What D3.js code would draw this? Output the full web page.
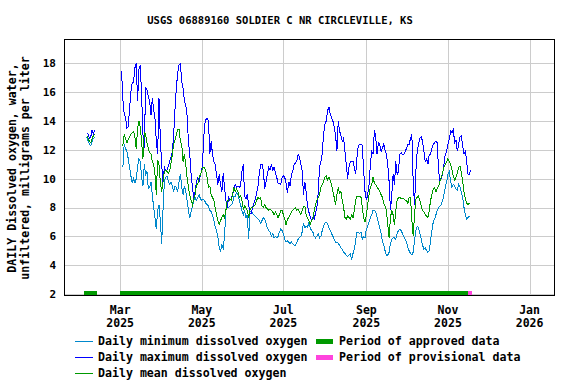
<!DOCTYPE html>
<html>
<head>
<meta charset="UTF-8">
<style>
  body { margin: 0; background: #fff; }
  svg { display: block; background: #fff; }
  text { font-family: "DejaVu Sans Mono", monospace; font-weight: bold; fill: #000; }
</style>
</head>
<body>
<svg></svg>
<script src="https://d3js.org/d3.v7.min.js"></script>
<script>

let width = 576, height = 384;

let title = "USGS 06889160 SOLDIER C NR CIRCLEVILLE, KS";
let yTitle = ["DAILY Dissolved oxygen, water,", "unfiltered, milligrams per liter"];

// short February run, one value per day from febStart
let febStart = "2025-02-04";
let febMax  = [13.2, 13.1, 12.8, 12.9, 13.4, 13.1, 13.4];
let febMean = [13.0, 12.8, 12.6, 12.5, 12.8, 13.0, 13.1];
let febMin  = [12.9, 12.6, 12.4, 12.3, 12.6, 12.8, 12.9];

// main run, one value per day
let maxStart = "2025-03-02";
let maxVals = [
  17.5, 15.5, 14.5, 14.3, 13.5, 13.6, 14.9, 16.0, 16.7, 16.7,
  17.7, 18.0, 15.4, 17.6, 17.9, 15.8, 13.1, 12.1, 16.3, 16.2,
  15.7, 15.4, 14.4, 15.6, 14.8, 14.2, 12.6, 11.7, 15.6, 12.8,
  11.0, 9.8, 10.8, 10.6, 10.6, 10.9, 11.2, 11.5, 11.9, 13.1,
  14.9, 16.3, 17.4, 17.9, 18.0, 16.7, 16.3, 15.4, 15.1, 14.4,
  12.6, 11.7, 10.3, 9.4, 8.7, 9.1, 9.8, 10.1, 9.8, 10.3,
  10.5, 11.9, 13.7, 14.1, 14.2, 14.0, 11.7, 12.6, 11.7, 11.2,
  11.0, 10.3, 9.6, 10.3, 9.6, 9.1, 10.4, 9.4, 8.5, 8.0,
  8.7, 8.5, 8.6, 8.9, 9.3, 9.6, 9.4, 9.5, 9.4,
  9.5, 10.5, 11.0, 8.8, 8.6, 8.9, 8.2, 7.6, 7.6, 8.0,
  8.3, 8.6, 9.0, 9.5, 10.4, 11.0, 11.0, 10.6, 9.3, 9.8,
  10.3, 10.8, 10.6, 11.0, 10.6, 10.8, 10.4, 10.1, 9.7, 9.7,
  9.6, 10.1, 10.2, 10.1, 9.7, 9.0, 9.8, 9.5, 10.3, 10.5,
  11.0, 11.1, 11.2, 11.7, 11.5, 11.0, 10.6, 8.9, 9.8, 9.1,
  8.1, 7.7, 7.4, 7.1, 7.3, 7.2, 7.6, 8.0, 9.0, 10.8,
  11.2, 11.7, 13.1, 13.8, 14.0, 14.7, 15.0, 14.5, 14.2, 14.0,
  13.6, 13.0, 11.9, 14.0, 13.3, 13.0, 12.6, 12.8, 11.9, 11.0,
  10.0, 10.8, 11.2, 11.2, 11.2, 10.8, 10.3, 11.5, 12.3,
  12.4, 12.4, 12.3, 10.5, 9.1, 8.5, 8.9, 9.6, 11.0, 11.9,
  11.7, 13.4, 12.9, 11.7, 12.5, 12.4, 11.9, 12.1, 12.4, 12.0,
  11.7, 11.0, 9.8, 7.8, 8.9, 10.3, 9.6, 11.2, 10.3, 10.5,
  11.7, 11.8, 11.7, 11.7, 11.9, 12.1, 12.4, 12.4, 12.8, 13.1,
  9.8, 8.2, 10.5, 11.9, 12.4, 12.8, 12.9, 12.6, 11.9, 11.2,
  11.4, 11.0, 11.7, 11.7, 12.1, 12.4, 12.5, 12.6, 12.5, 10.5,
  9.9, 10.0, 10.3, 11.0, 11.7, 11.9, 12.4, 12.8, 13.3, 13.2,
  13.4, 12.5, 12.7, 11.9, 12.4, 12.9, 13.0, 12.3, 11.7, 11.9,
  11.2, 10.3, 10.3, 10.6
];

let meanStart = "2025-03-03";
let meanVals = [
  12.3, 13.1, 12.8, 12.5, 12.7, 12.9, 13.1, 13.2, 13.3, 12.9,
  12.1, 13.5, 14.0, 13.6, 12.6, 11.4, 13.2, 13.1, 12.5, 12.1,
  11.8, 11.7, 11.2, 11.0, 10.3, 8.9, 11.3, 11.0, 9.8, 9.1,
  9.8, 10.5, 10.6, 10.5, 10.4, 10.5, 11.1, 11.7, 12.4, 12.7,
  13.1, 13.4, 13.4, 12.6, 12.4, 11.2, 11.7, 11.0, 10.1, 9.4,
  8.9, 8.5, 8.2, 8.6, 8.9, 9.6, 9.6, 10.1, 10.3, 10.6,
  10.8, 10.8, 10.5, 10.1, 9.4, 9.5, 8.9, 8.7, 8.5, 8.0,
  7.5, 7.1, 6.8, 7.1, 7.3, 7.5, 7.3, 7.8, 8.5, 8.5,
  8.6, 8.5, 8.9, 9.4, 9.1, 9.3, 9.1,
  8.7, 8.8, 8.5, 7.9, 8.1, 8.0, 7.8, 7.3, 7.8, 8.0,
  8.0, 8.1, 8.2, 8.5, 8.7, 8.6, 8.7, 8.1, 8.0, 8.2,
  8.0, 7.9, 7.8, 7.9, 7.8, 7.7, 7.5, 7.7, 7.5, 7.3,
  7.5, 7.8, 7.8, 7.5, 7.2, 6.8, 7.2, 7.3, 7.5, 7.7,
  7.8, 7.9, 8.0, 7.8, 7.9, 7.7, 7.5, 7.8, 8.1, 8.1,
  7.5, 7.3, 7.1, 6.8, 7.1, 7.2, 7.8, 8.2, 8.5, 8.7,
  8.9, 9.4, 9.6, 9.8, 10.1, 10.2, 9.9, 10.1, 9.9, 9.6,
  9.1, 8.7, 8.2, 8.9, 9.4, 9.0, 9.1, 8.5, 8.0, 7.3,
  7.2, 7.4, 7.3, 7.2, 7.5, 7.3, 7.8, 8.5, 8.8,
  8.8, 8.8, 8.7, 8.0, 7.3, 7.0, 7.5, 8.2, 8.9, 9.4,
  9.6, 10.1, 9.7, 9.6, 9.4, 9.3, 9.1, 8.9, 8.7, 8.3,
  8.1, 7.8, 6.8, 5.9, 7.3, 7.8, 7.5, 6.8, 7.8, 8.5,
  8.7, 8.7, 8.6, 8.6, 8.6, 8.5, 8.5, 8.3, 8.7, 8.7,
  7.1, 6.0, 7.5, 8.6, 8.7, 8.8, 8.5, 8.1, 7.8, 7.7,
  7.5, 7.4, 7.3, 7.8, 8.5, 8.9, 9.3, 9.4, 9.1, 9.3,
  9.5, 9.8, 10.1, 10.4, 10.8, 11.0, 11.2, 11.4, 11.2, 11.0,
  10.6, 10.2, 9.9, 10.1, 10.4, 10.8, 10.9, 10.4, 9.8, 9.1,
  8.6, 8.3, 8.2, 8.3
];

let minStart = "2025-03-03";
let minVals = [
  10.8, 12.4, 12.1, 11.9, 11.4, 10.8, 10.2, 9.7, 10.0, 9.7,
  10.0, 10.8, 11.4, 11.2, 10.1, 9.5, 11.0, 10.3, 10.5, 9.3,
  9.4, 9.8, 8.9, 8.0, 7.3, 6.5, 7.8, 8.2, 7.1, 5.5,
  7.8, 9.8, 10.1, 10.2, 9.8, 9.6, 9.8, 9.5, 9.1, 9.5,
  9.4, 9.1, 9.8, 10.3, 9.4, 8.9, 9.5, 9.1, 8.5, 7.8,
  7.3, 7.7, 8.1, 8.5, 8.7, 8.5, 8.7, 8.9, 8.6, 8.5,
  8.6, 8.5, 8.3, 8.2, 8.1, 7.8, 7.7, 7.5, 7.1, 6.7,
  6.4, 6.0, 5.2, 5.0, 5.4, 5.2, 6.0, 7.8, 8.1, 8.0,
  8.1, 8.2, 8.3, 8.8, 8.8, 9.0, 8.9,
  8.5, 8.2, 7.8, 7.5, 7.8, 7.3, 7.5, 5.8, 7.7, 7.7,
  7.6, 7.5, 7.4, 7.3, 7.2, 7.1, 6.9, 7.1, 7.3, 7.2,
  6.9, 6.6, 6.4, 6.3, 6.0, 6.2, 5.9, 6.0, 5.9, 6.0,
  6.3, 6.5, 6.4, 6.2, 5.8, 5.6, 5.7, 5.6, 5.5, 5.6,
  5.5, 5.4, 5.4, 5.6, 5.8, 5.9, 6.0, 6.3, 6.9, 6.6,
  6.7, 6.6, 7.0, 6.6, 6.4, 6.3, 6.0, 5.9, 6.0, 6.2,
  5.9, 6.0, 6.4, 6.7, 6.9, 7.0, 6.9, 6.6, 6.4, 6.2,
  6.0, 5.8, 5.6, 5.6, 5.5, 5.4, 5.2, 5.1, 4.9, 4.8,
  4.7, 4.6, 4.7, 4.8, 4.4, 4.8, 5.1, 5.7, 6.3,
  6.3, 6.2, 6.3, 5.8, 6.0, 5.9, 6.5, 6.7, 7.0, 7.3,
  7.5, 7.8, 7.8, 7.7, 7.3, 7.0, 6.6, 6.2, 5.7, 5.4,
  5.0, 4.7, 4.7, 4.9, 5.5, 5.8, 5.9, 5.9, 5.8, 6.2,
  6.4, 6.5, 6.4, 6.2, 6.0, 5.8, 5.6, 5.2, 5.0, 4.8,
  4.7, 4.9, 5.7, 6.4, 6.7, 6.6, 6.2, 5.8, 5.4, 5.1,
  5.2, 5.0, 4.9, 5.0, 5.7, 6.4, 7.0, 7.2, 7.5, 7.8,
  8.0, 8.1, 8.2, 8.5, 8.9, 9.4, 9.8, 10.3, 10.5, 9.8,
  9.4, 9.6, 9.5, 9.3, 9.2, 9.6, 9.4, 9.1, 8.7, 8.0,
  7.5, 7.2, 7.3, 7.4
];

let approvedPeriods = [["2025-02-02", "2025-02-12"], ["2025-03-01", "2025-11-16"]];
let provisionalPeriods = [["2025-11-16", "2025-11-19"]];

let yTicks = [2, 4, 6, 8, 10, 12, 14, 16, 18];
let xTicks = ["2025-03-01", "2025-05-01", "2025-07-01", "2025-09-01", "2025-11-01", "2026-01-01"];

let colMin = "#0088cc", colMax = "#0000ff", colMean = "#009900";
let colApproved = "#009900", colProvisional = "#ff44dd";

let parse = d3.timeParse("%Y-%m-%d");

function toPoints(start, vals) {
  let d0 = parse(start);
  return vals.map((v, i) => ({ date: d3.timeDay.offset(d0, i), value: v }));
}

let svg = d3.select("svg")
  .attr("width", width)
  .attr("height", height)
  .attr("viewBox", "0 0 " + width + " " + height);

let x = d3.scaleTime()
  .domain([parse("2025-01-18"), parse("2026-01-20")])
  .range([64, 555]);

let y = d3.scaleLinear()
  .domain([1.86, 19.7])
  .range([296, 39]);

let px = v => Math.round(v) + 0.5;

// grid
let grid = svg.append("g").attr("shape-rendering", "crispEdges");
grid.selectAll(".hg").data(yTicks).enter().append("line")
  .attr("x1", 64).attr("x2", 555)
  .attr("y1", d => px(y(d))).attr("y2", d => px(y(d)))
  .attr("stroke", "#cccccc").attr("stroke-width", 1);
grid.selectAll(".vg").data(xTicks).enter().append("line")
  .attr("y1", 39).attr("y2", 296)
  .attr("x1", d => px(x(parse(d)))).attr("x2", d => px(x(parse(d))))
  .attr("stroke", "#cccccc").attr("stroke-width", 1);

// period bars
let bars = svg.append("g").attr("shape-rendering", "crispEdges");
bars.selectAll(".ap").data(approvedPeriods).enter().append("rect")
  .attr("x", d => x(parse(d[0])))
  .attr("width", d => x(parse(d[1])) - x(parse(d[0])))
  .attr("y", y(2) - 3).attr("height", 4)
  .attr("fill", colApproved);
bars.selectAll(".pp").data(provisionalPeriods).enter().append("rect")
  .attr("x", d => x(parse(d[0])))
  .attr("width", d => x(parse(d[1])) - x(parse(d[0])))
  .attr("y", y(2) - 3).attr("height", 4)
  .attr("fill", colProvisional);

// series
let line = d3.line().x(d => x(d.date)).y(d => y(d.value));
let series = [
  { color: colMin, runs: [toPoints(febStart, febMin), toPoints(minStart, minVals)] },
  { color: colMax, runs: [toPoints(febStart, febMax), toPoints(maxStart, maxVals)] },
  { color: colMean, runs: [toPoints(febStart, febMean), toPoints(meanStart, meanVals)] }
];
series.forEach(s => {
  s.runs.forEach(r => {
    svg.append("path")
      .attr("d", line(r))
      .attr("fill", "none")
      .attr("stroke", s.color)
      .attr("stroke-width", 1)
      .attr("shape-rendering", "crispEdges");
  });
});

// frame
svg.append("rect")
  .attr("x", 64.5).attr("y", 39.5)
  .attr("width", 490).attr("height", 256)
  .attr("fill", "none").attr("stroke", "#000").attr("stroke-width", 1)
  .attr("shape-rendering", "crispEdges");

// title
svg.append("text")
  .attr("x", 280).attr("y", 20).attr("dy", "0.35em")
  .attr("text-anchor", "middle")
  .style("font-size", "10.5px")
  .text(title);

// y tick labels
svg.selectAll(".yl").data(yTicks).enter().append("text")
  .attr("x", 56).attr("y", d => y(d)).attr("dy", "0.35em")
  .attr("text-anchor", "end")
  .style("font-size", "11px")
  .text(d => d);

// y axis title
yTitle.forEach((t, i) => {
  svg.append("text")
    .attr("transform", "translate(" + (12 + i * 13) + ",168) rotate(-90)")
    .attr("dy", "0.35em")
    .attr("text-anchor", "middle")
    .style("font-size", "11.6px")
    .text(t);
});

// x tick labels
let monthFmt = d3.timeFormat("%b"), yearFmt = d3.timeFormat("%Y");
xTicks.forEach(t => {
  let d = parse(t);
  svg.append("text")
    .attr("x", x(d)).attr("y", 310).attr("dy", "0.35em")
    .attr("text-anchor", "middle").style("font-size", "11.5px")
    .text(monthFmt(d));
  svg.append("text")
    .attr("x", x(d)).attr("y", 323).attr("dy", "0.35em")
    .attr("text-anchor", "middle").style("font-size", "11.5px")
    .text(yearFmt(d));
});

// legend
let legendLines = [
  { label: "Daily minimum dissolved oxygen", color: colMin },
  { label: "Daily maximum dissolved oxygen", color: colMax },
  { label: "Daily mean dissolved oxygen", color: colMean }
];
let legendBars = [
  { label: "Period of approved data", color: colApproved },
  { label: "Period of provisional data", color: colProvisional }
];
legendLines.forEach((l, i) => {
  let ly = 341 + i * 16;
  svg.append("line")
    .attr("x1", 75).attr("x2", 93).attr("y1", ly + 0.5).attr("y2", ly + 0.5)
    .attr("stroke", l.color).attr("stroke-width", 1)
    .attr("shape-rendering", "crispEdges");
  svg.append("text")
    .attr("x", 98).attr("y", ly).attr("dy", "0.35em")
    .style("font-size", "11.6px")
    .text(l.label);
});
legendBars.forEach((l, i) => {
  let ly = 341 + i * 16;
  svg.append("rect")
    .attr("x", 316).attr("y", ly - 2).attr("width", 17).attr("height", 5)
    .attr("fill", l.color);
  svg.append("text")
    .attr("x", 339).attr("y", ly).attr("dy", "0.35em")
    .style("font-size", "11.6px")
    .text(l.label);
});

</script>
</body>
</html>
